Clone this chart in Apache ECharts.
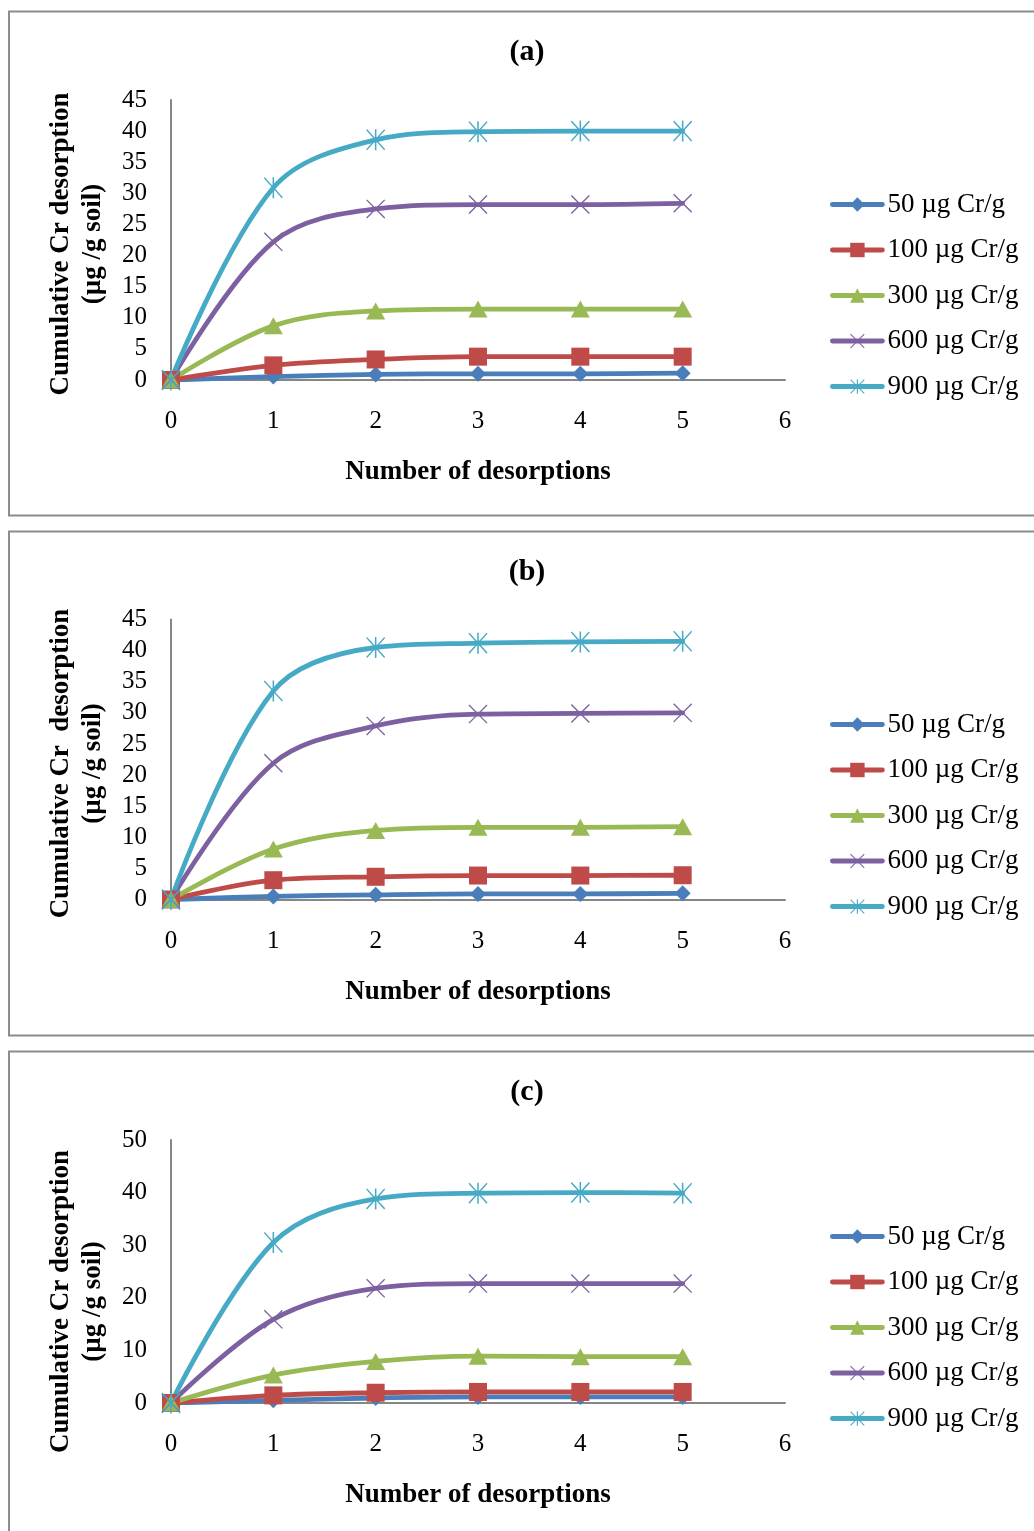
<!DOCTYPE html>
<html>
<head>
<meta charset="utf-8">
<script src="https://cdn.jsdelivr.net/npm/echarts@6/dist/echarts.min.js"></script>
<style>
html,body{margin:0;padding:0;background:#fff;}
#chart{width:1034px;height:1531px;}
</style>
</head>
<body>
<div id="chart"></div>
<script>
// ---- data ----
const xValues = [0, 1, 2, 3, 4, 5];
const seriesNames = ['50 µg Cr/g', '100 µg Cr/g', '300 µg Cr/g', '600 µg Cr/g', '900 µg Cr/g'];
const panelTitles = ['(a)', '(b)', '(c)'];
const yTitles = ['Cumulative Cr desorption\n(µg /g soil)', 'Cumulative Cr  desorption\n(µg /g soil)', 'Cumulative Cr desorption\n(µg /g soil)'];
const xTitle = 'Number of desorptions';
const yMax = [45, 45, 50];
const yStep = [5, 5, 10];

// panel (a)
const a50  = [0, 0.55, 0.9, 1.0, 1.0, 1.1];
const a100 = [0, 2.35, 3.3, 3.75, 3.75, 3.75];
const a300 = [0, 8.7, 11.1, 11.4, 11.4, 11.4];
const a600 = [0, 22.2, 27.5, 28.2, 28.2, 28.4];
const a900 = [0, 30.9, 38.6, 39.9, 40.0, 40.0];
// panel (b)
const b50  = [0, 0.5, 0.75, 0.9, 0.9, 1.0];
const b100 = [0, 3.1, 3.65, 3.85, 3.85, 3.9];
const b300 = [0, 8.1, 11.1, 11.6, 11.6, 11.7];
const b600 = [0, 21.9, 27.9, 29.8, 29.9, 30.0];
const b900 = [0, 33.5, 40.5, 41.2, 41.4, 41.5];
// panel (c)
const c50  = [0, 0.5, 0.95, 1.15, 1.15, 1.15];
const c100 = [0, 1.45, 1.95, 2.1, 2.1, 2.1];
const c300 = [0, 5.3, 7.9, 8.9, 8.8, 8.8];
const c600 = [0, 15.9, 21.8, 22.7, 22.7, 22.7];
const c900 = [0, 30.5, 38.8, 39.9, 40.0, 39.9];

const panels = [
  [a50, a100, a300, a600, a900],
  [b50, b100, b300, b600, b900],
  [c50, c100, c300, c600, c900]
];

// ---- styles ----
const FONT = '"Liberation Serif", "Times New Roman", serif';
const colors = ['#4A7EBB', '#BE4B48', '#98B954', '#7D60A0', '#46AAC5'];
const xPath = 'path://M0 1L1 0L20 19L19 20Z M19 0L20 1L1 20L0 19Z';
const starPath = 'path://M0 1L1 0L20 19L19 20Z M19 0L20 1L1 20L0 19Z M9.2 0L10.8 0L10.8 20L9.2 20Z';
const symbols = ['diamond', 'rect', 'triangle', xPath, starPath];
const symbolSizes = [[16, 16], [18, 18], [19, 17], [19, 19], [19, 21]];

const gridTops = [100, 619.5, 1140];
const gridHeights = [280, 280, 263];
const titleTops = [32, 552, 1072];
const legendTops = [186, 706, 1218];
const yNamePad = [[0, 8, 0, 0], [0, 8, 0, 0], [0, 60, 0, 0]];

const grid = [], xAxis = [], yAxis = [], series = [], legend = [], title = [];
panels.forEach((p, i) => {
  grid.push({left: 171, top: gridTops[i], width: 614, height: gridHeights[i], containLabel: false});
  title.push({
    text: panelTitles[i], left: 522, top: titleTops[i], textAlign: 'center',
    textStyle: {fontFamily: FONT, fontSize: 30, fontWeight: 'bold', color: '#000'}
  });
  xAxis.push({
    type: 'value', gridIndex: i, min: 0, max: 6, interval: 1,
    name: xTitle, nameLocation: 'middle', nameGap: 79,
    nameTextStyle: {fontFamily: FONT, fontSize: 27, fontWeight: 'bold', color: '#000'},
    axisLine: {show: true, onZero: false, lineStyle: {color: '#868686', width: 2}},
    axisTick: {show: false}, splitLine: {show: false},
    axisLabel: {fontFamily: FONT, fontSize: 25, color: '#000', margin: 29}
  });
  yAxis.push({
    type: 'value', gridIndex: i, min: 0, max: yMax[i], interval: yStep[i],
    name: yTitles[i], nameLocation: 'middle', nameGap: 62, nameRotate: 90,
    nameTextStyle: {fontFamily: FONT, fontSize: 27, fontWeight: 'bold', color: '#000', lineHeight: 32, padding: yNamePad[i]},
    axisLine: {show: true, lineStyle: {color: '#868686', width: 2}},
    axisTick: {show: false}, splitLine: {show: false},
    axisLabel: {fontFamily: FONT, fontSize: 25, color: '#000', margin: 24}
  });
  const names = [];
  p.forEach((vals, k) => {
    const name = seriesNames[k] + '\u200B'.repeat(i);
    names.push(name);
    series.push({
      type: 'line', name: name, xAxisIndex: i, yAxisIndex: i,
      data: xValues.map((x, j) => [x, vals[j]]),
      smooth: 0.35,
      symbol: symbols[k], symbolSize: symbolSizes[k], showSymbol: true,
      lineStyle: {color: colors[k], width: 4.8, cap: 'round', join: 'round'},
      itemStyle: {color: colors[k]},
      emphasis: {disabled: true},
      animation: false
    });
  });
  legend.push({
    data: names, orient: 'vertical', left: 825, top: legendTops[i],
    itemWidth: 50, itemHeight: 18, itemGap: 18.5,
    formatter: n => n.replace(/\u200B/g, ''),
    lineStyle: {width: 4.8, cap: 'round'},
    textStyle: {fontFamily: FONT, fontSize: 27, color: '#000', lineHeight: 24},
    selectedMode: false
  });
});

const graphic = [
  {type: 'rect', shape: {x: 9, y: 11.5, width: 1040, height: 504}, style: {fill: 'none', stroke: '#8c8c8c', lineWidth: 2}, silent: true},
  {type: 'rect', shape: {x: 9, y: 531.5, width: 1040, height: 504}, style: {fill: 'none', stroke: '#8c8c8c', lineWidth: 2}, silent: true},
  {type: 'rect', shape: {x: 9, y: 1051.5, width: 1040, height: 600}, style: {fill: 'none', stroke: '#8c8c8c', lineWidth: 2}, silent: true}
];

const chart = echarts.init(document.getElementById('chart'), null, {renderer: 'canvas'});
chart.setOption({
  backgroundColor: '#fff', animation: false,
  title, grid, xAxis, yAxis, series, legend, graphic
});
</script>
</body>
</html>
